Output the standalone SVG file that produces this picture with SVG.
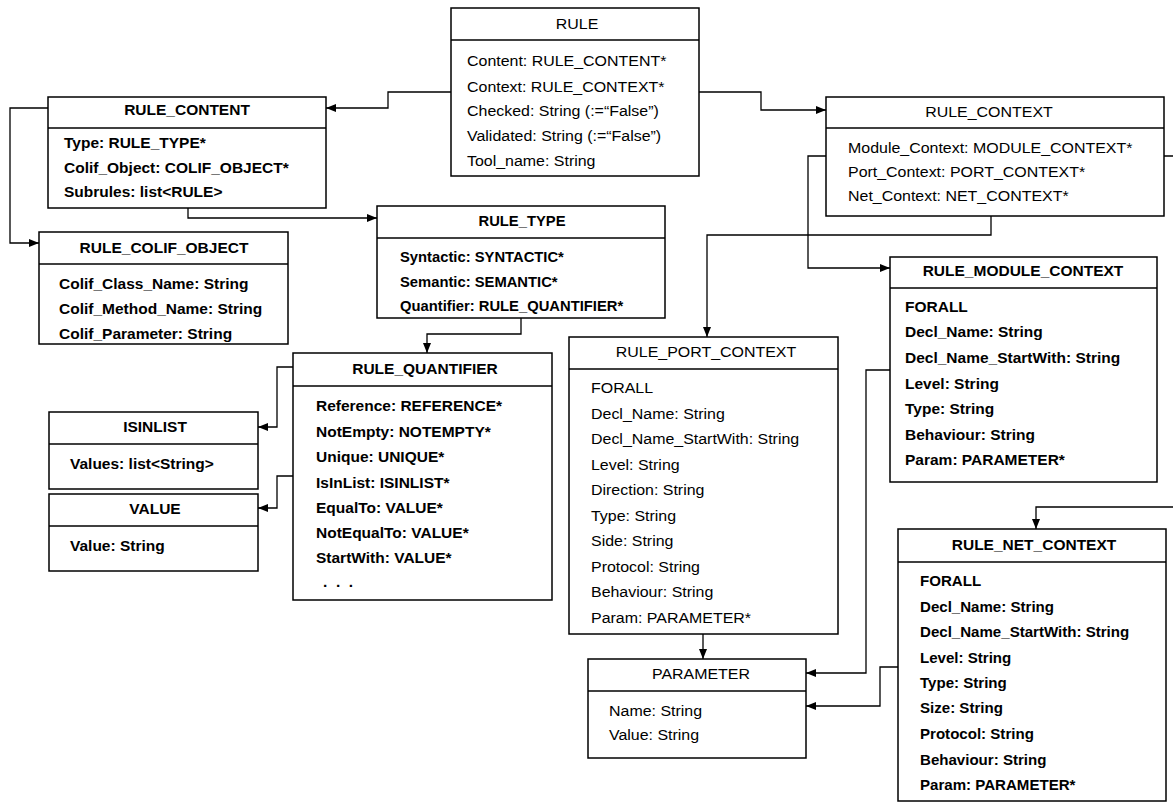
<svg xmlns="http://www.w3.org/2000/svg" width="1173" height="803" viewBox="0 0 1173 803">
<style>
.box{fill:#fff;stroke:#000;stroke-width:1.5}
.sep{stroke:#000;stroke-width:1.3}
.r{font-family:"Liberation Sans",Arial,sans-serif;font-size:14.5px;fill:#000}
.b{font-family:"Liberation Sans",Arial,sans-serif;font-size:14.5px;font-weight:bold;fill:#000}
.c{text-anchor:middle}
.conn path{fill:none;stroke:#000;stroke-width:1.3;marker-end:url(#arr)}
</style>
<defs>
<marker id="arr" viewBox="0 0 10 8" refX="10" refY="4" markerWidth="10" markerHeight="8" markerUnits="userSpaceOnUse" orient="auto">
<path d="M0,0 L10,4 L0,8 z" fill="#000"/>
</marker>
</defs>
<rect width="1173" height="803" fill="#fff"/>

<g class="conn" id="connectors">
<path d="M451,92 H388 V108 H326"/>
<path d="M699,92 H761 V110 H826"/>
<path d="M48,108 H10 V243 H39"/>
<path d="M188,208 V218 H377"/>
<path d="M521,318 V334 H427 V353"/>
<path d="M293,367 H277 V427 H258"/>
<path d="M293,476 H277 V508 H258"/>
<path d="M826,156 H808 V268 H890"/>
<path d="M991,216 V235 H707 V337"/>
<path d="M1164,156 H1185 V507 H1036 V529"/>
<path d="M703,634 V659"/>
<path d="M890,370 H866 V673 H806"/>
<path d="M898,667 H880 V706 H806"/>
</g>

<g id="rule">
<rect class="box" x="451" y="8" width="248" height="168"/>
<line class="sep" x1="451" y1="40" x2="699" y2="40"/>
<text class="r c" transform="translate(577,29) scale(1.1,1)">RULE</text>
<text class="r" transform="translate(467,66) scale(1.1,1)">Content: RULE_CONTENT*</text>
<text class="r" transform="translate(467,92) scale(1.1,1)">Context: RULE_CONTEXT*</text>
<text class="r" transform="translate(467,116) scale(1.1,1)">Checked: String (:=“False”)</text>
<text class="r" transform="translate(467,141) scale(1.1,1)">Validated: String (:=“False”)</text>
<text class="r" transform="translate(467,166) scale(1.1,1)">Tool_name: String</text>
</g>

<g id="rule_content">
<rect class="box" x="48" y="97" width="278" height="111"/>
<line class="sep" x1="48" y1="128" x2="326" y2="128"/>
<text class="b c" transform="translate(187,115) scale(1.07,1)">RULE_CONTENT</text>
<text class="b" transform="translate(64,148) scale(1.07,1)">Type: RULE_TYPE*</text>
<text class="b" transform="translate(64,173) scale(1.07,1)">Colif_Object: COLIF_OBJECT*</text>
<text class="b" transform="translate(64,197) scale(1.07,1)">Subrules: list&lt;RULE&gt;</text>
</g>

<g id="rule_context">
<rect class="box" x="826" y="97" width="338" height="119"/>
<line class="sep" x1="826" y1="128" x2="1164" y2="128"/>
<text class="r c" transform="translate(989,117) scale(1.1,1)">RULE_CONTEXT</text>
<text class="r" transform="translate(848,153) scale(1.1,1)">Module_Context: MODULE_CONTEXT*</text>
<text class="r" transform="translate(848,177) scale(1.1,1)">Port_Context: PORT_CONTEXT*</text>
<text class="r" transform="translate(848,201) scale(1.1,1)">Net_Context: NET_CONTEXT*</text>
</g>

<g id="rule_colif_object">
<rect class="box" x="39" y="232" width="249" height="112"/>
<line class="sep" x1="39" y1="264" x2="288" y2="264"/>
<text class="b c" transform="translate(164,253) scale(1.07,1)">RULE_COLIF_OBJECT</text>
<text class="b" transform="translate(59,289) scale(1.07,1)">Colif_Class_Name: String</text>
<text class="b" transform="translate(59,314) scale(1.07,1)">Colif_Method_Name: String</text>
<text class="b" transform="translate(59,339) scale(1.07,1)">Colif_Parameter: String</text>
</g>

<g id="rule_type">
<rect class="box" x="377" y="206" width="288" height="112"/>
<line class="sep" x1="377" y1="238" x2="665" y2="238"/>
<text class="b c" transform="translate(522,226) scale(1.02,1)">RULE_TYPE</text>
<text class="b" transform="translate(400,262) scale(1.02,1)">Syntactic: SYNTACTIC*</text>
<text class="b" transform="translate(400,287) scale(1.02,1)">Semantic: SEMANTIC*</text>
<text class="b" transform="translate(400,311) scale(1.02,1)">Quantifier: RULE_QUANTIFIER*</text>
</g>

<g id="rule_quantifier">
<rect class="box" x="293" y="353" width="259" height="247"/>
<line class="sep" x1="293" y1="386" x2="552" y2="386"/>
<text class="b c" transform="translate(425,374) scale(1.07,1)">RULE_QUANTIFIER</text>
<text class="b" transform="translate(316,411) scale(1.07,1)">Reference: REFERENCE*</text>
<text class="b" transform="translate(316,437) scale(1.07,1)">NotEmpty: NOTEMPTY*</text>
<text class="b" transform="translate(316,462) scale(1.07,1)">Unique: UNIQUE*</text>
<text class="b" transform="translate(316,488) scale(1.07,1)">IsInList: ISINLIST*</text>
<text class="b" transform="translate(316,513) scale(1.07,1)">EqualTo: VALUE*</text>
<text class="b" transform="translate(316,538) scale(1.07,1)">NotEqualTo: VALUE*</text>
<text class="b" transform="translate(316,563) scale(1.07,1)">StartWith: VALUE*</text>
<text class="b" transform="translate(323,587) scale(1.07,1)" letter-spacing="2">. . .</text>
</g>

<g id="isinlist">
<rect class="box" x="49" y="412" width="209" height="77"/>
<line class="sep" x1="49" y1="444" x2="258" y2="444"/>
<text class="b c" transform="translate(155,432) scale(1.07,1)">ISINLIST</text>
<text class="b" transform="translate(70,469) scale(1.07,1)">Values: list&lt;String&gt;</text>
</g>

<g id="value">
<rect class="box" x="49" y="494" width="209" height="77"/>
<line class="sep" x1="49" y1="526" x2="258" y2="526"/>
<text class="b c" transform="translate(155,514) scale(1.07,1)">VALUE</text>
<text class="b" transform="translate(70,551) scale(1.07,1)">Value: String</text>
</g>

<g id="rule_port_context">
<rect class="box" x="569" y="337" width="269" height="297"/>
<line class="sep" x1="569" y1="369" x2="838" y2="369"/>
<text class="r c" transform="translate(706,357) scale(1.1,1)">RULE_PORT_CONTEXT</text>
<text class="r" transform="translate(591,393) scale(1.1,1)">FORALL</text>
<text class="r" transform="translate(591,419) scale(1.1,1)">Decl_Name: String</text>
<text class="r" transform="translate(591,444) scale(1.1,1)">Decl_Name_StartWith: String</text>
<text class="r" transform="translate(591,470) scale(1.1,1)">Level: String</text>
<text class="r" transform="translate(591,495) scale(1.1,1)">Direction: String</text>
<text class="r" transform="translate(591,521) scale(1.1,1)">Type: String</text>
<text class="r" transform="translate(591,546) scale(1.1,1)">Side: String</text>
<text class="r" transform="translate(591,572) scale(1.1,1)">Protocol: String</text>
<text class="r" transform="translate(591,597) scale(1.1,1)">Behaviour: String</text>
<text class="r" transform="translate(591,623) scale(1.1,1)">Param: PARAMETER*</text>
</g>

<g id="rule_module_context">
<rect class="box" x="890" y="257" width="267" height="225"/>
<line class="sep" x1="890" y1="288" x2="1157" y2="288"/>
<text class="b c" transform="translate(1023,276) scale(1.07,1)">RULE_MODULE_CONTEXT</text>
<text class="b" transform="translate(905,312) scale(1.07,1)">FORALL</text>
<text class="b" transform="translate(905,337) scale(1.07,1)">Decl_Name: String</text>
<text class="b" transform="translate(905,363) scale(1.07,1)">Decl_Name_StartWith: String</text>
<text class="b" transform="translate(905,389) scale(1.07,1)">Level: String</text>
<text class="b" transform="translate(905,414) scale(1.07,1)">Type: String</text>
<text class="b" transform="translate(905,440) scale(1.07,1)">Behaviour: String</text>
<text class="b" transform="translate(905,465) scale(1.07,1)">Param: PARAMETER*</text>
</g>

<g id="rule_net_context">
<rect class="box" x="898" y="529" width="268" height="272"/>
<line class="sep" x1="898" y1="562" x2="1166" y2="562"/>
<text class="b c" transform="translate(1034,550) scale(1.07,1)">RULE_NET_CONTEXT</text>
<text class="b" transform="translate(920,586) scale(1.04,1)">FORALL</text>
<text class="b" transform="translate(920,612) scale(1.04,1)">Decl_Name: String</text>
<text class="b" transform="translate(920,637) scale(1.04,1)">Decl_Name_StartWith: String</text>
<text class="b" transform="translate(920,663) scale(1.04,1)">Level: String</text>
<text class="b" transform="translate(920,688) scale(1.04,1)">Type: String</text>
<text class="b" transform="translate(920,713) scale(1.04,1)">Size: String</text>
<text class="b" transform="translate(920,739) scale(1.04,1)">Protocol: String</text>
<text class="b" transform="translate(920,765) scale(1.04,1)">Behaviour: String</text>
<text class="b" transform="translate(920,790) scale(1.04,1)">Param: PARAMETER*</text>
</g>

<g id="parameter">
<rect class="box" x="588" y="659" width="218" height="99"/>
<line class="sep" x1="588" y1="691" x2="806" y2="691"/>
<text class="r c" transform="translate(701,679) scale(1.1,1)">PARAMETER</text>
<text class="r" transform="translate(609,716) scale(1.1,1)">Name: String</text>
<text class="r" transform="translate(609,740) scale(1.1,1)">Value: String</text>
</g>
</svg>
